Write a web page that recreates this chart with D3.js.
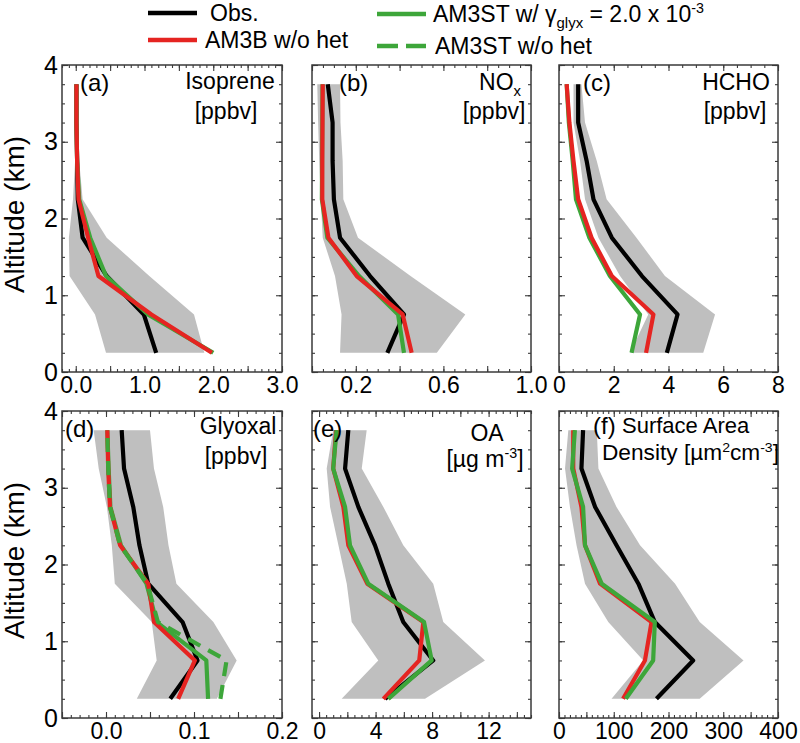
<!DOCTYPE html>
<html><head><meta charset="utf-8">
<script src="https://cdn.jsdelivr.net/npm/d3@7"></script>
<style>
body{margin:0;background:#fff}
text{font-family:"Liberation Sans",Arial,Helvetica,sans-serif;fill:#000}
</style>
</head><body>
<svg id="chart" width="800" height="743"></svg>
<script>
// ---------------- DATA ----------------
const altitudes = [0.25, 0.75, 1.25, 1.75, 2.25, 2.75, 3.25, 3.75];
const altTickValues = [0, 1, 2, 3, 4];
const altTickLabels = ["0", "1", "2", "3", "4"];

// (a) Isoprene [ppbv]
const isopreneObs   = [1.17, 0.99, 0.45, 0.10, 0.03, 0.02, 0.01, 0.01];
const isopreneAM3B  = [1.98, 1.10, 0.33, 0.18, 0.04, 0.02, 0.01, 0.01];
const isopreneAM3ST = [2.00, 1.05, 0.44, 0.21, 0.05, 0.02, 0.01, 0.01];
const isopreneLow   = [0.44, 0.28, -0.09, -0.10, -0.04, -0.01, 0.00, 0.00];
const isopreneHigh  = [1.87, 1.72, 1.07, 0.45, 0.10, 0.05, 0.03, 0.02];
const isopreneTickValues = [0, 1, 2, 3];
const isopreneTickLabels = ["0.0", "1.0", "2.0", "3.0"];

// (b) NOx [ppbv]
const noxObs   = [0.344, 0.420, 0.265, 0.128, 0.100, 0.094, 0.094, 0.072];
const noxAM3B  = [0.455, 0.414, 0.204, 0.075, 0.047, 0.047, 0.048, 0.049];
const noxAM3ST = [0.420, 0.393, 0.215, 0.070, 0.045, 0.046, 0.047, 0.048];
const noxLow   = [0.128, 0.135, 0.105, 0.049, 0.040, 0.033, 0.028, 0.024];
const noxHigh  = [0.570, 0.700, 0.450, 0.210, 0.143, 0.140, 0.130, 0.128];
const noxTickValues = [0.2, 0.6, 1.0];
const noxTickLabels = ["0.2", "0.6", "1.0"];

// (c) HCHO [ppbv]
const hchoObs   = [3.94, 4.33, 3.03, 1.93, 1.26, 1.01, 0.70, 0.70];
const hchoAM3B  = [3.18, 3.45, 1.93, 1.19, 0.70, 0.53, 0.38, 0.28];
const hchoAM3ST = [2.65, 2.96, 1.86, 1.11, 0.62, 0.50, 0.36, 0.28];
const hchoLow   = [2.60, 3.26, 2.23, 1.44, 0.95, 0.77, 0.53, 0.53];
const hchoHigh  = [5.27, 5.70, 3.87, 2.83, 1.74, 1.38, 0.95, 0.82];
const hchoTickValues = [0, 2, 4, 6, 8];
const hchoTickLabels = ["0", "2", "4", "6", "8"];

// (d) Glyoxal [ppbv]
const glyObs       = [0.073, 0.104, 0.087, 0.048, 0.038, 0.031, 0.0205, 0.0178];
const glyAM3B      = [0.082, 0.101, 0.0545, 0.048, 0.016, 0.0045, 0.0025, 0.0015];
const glyAM3ST     = [0.116, 0.114, 0.0576, 0.046, 0.017, 0.005, 0.003, 0.0015];
const glyAM3STnoHet= [0.130, 0.137, 0.059, 0.047, 0.016, 0.0045, 0.0025, 0.0015];
const glyLow       = [0.035, 0.0576, 0.052, 0.010, 0.0066, 0.001, -0.0083, -0.014];
const glyHigh      = [0.126, 0.1485, 0.122, 0.080, 0.071, 0.065, 0.0545, 0.050];
const glyTickValues = [0, 0.1, 0.2];
const glyTickLabels = ["0.0", "0.1", "0.2"];

// (e) OA [ug m-3]
const oaObs   = [4.67, 8.08, 5.96, 4.90, 3.96, 2.78, 1.84, 2.07];
const oaAM3B  = [4.55, 7.09, 7.38, 3.41, 2.07, 1.72, 1.00, 1.20];
const oaAM3ST = [4.90, 7.97, 7.43, 3.48, 2.19, 1.84, 1.00, 1.24];
const oaLow   = [1.60, 4.19, 2.31, 1.96, 1.37, 0.78, 0.54, 1.00];
const oaHigh  = [7.50, 11.74, 8.79, 8.08, 5.96, 4.55, 3.02, 3.37];
const oaTickValues = [0, 4, 8, 12];
const oaTickLabels = ["0", "4", "8", "12"];

// (f) Surface area density [um2 cm-3]
const sadObs   = [178, 245, 175, 145, 105, 66, 41, 44];
const sadAM3B  = [117, 157, 169, 75, 47.5, 41, 26, 26];
const sadAM3ST = [122, 172, 175, 78, 47.5, 44, 24, 29];
const sadLow   = [96, 154, 90, 47.5, 32, 20, 11, 17];
const sadHigh  = [257, 337, 257, 212, 148, 105, 72, 69];
const sadTickValues = [0, 100, 200, 300, 400];
const sadTickLabels = ["0", "100", "200", "300", "400"];

const legendLabels = ["Obs.", "AM3B w/o het", "AM3ST w/ γglyx = 2.0 x 10-3", "AM3ST w/o het"];

// ---------------- LAYOUT / STYLE ----------------
const COL = [[62, 282], [312, 531], [559, 778]];
const ROW = [[65, 372], [411, 718]];
const C_OBS = "#000000", C_B = "#e52421", C_ST = "#3da63a", C_GRAY = "#bfbfbf", C_FRAME = "#3a3a3a";
const LW = 4.2;

const panels = [
  {col:0,row:0,dom:[-0.2,3],major:0.5,minor:0.1,tv:isopreneTickValues,tl:isopreneTickLabels,
   obs:isopreneObs,b:isopreneAM3B,st:isopreneAM3ST,lo:isopreneLow,hi:isopreneHigh,
   tag:"(a)",tagX:18,tagY:26,
   title:[{parts:[{t:"Isoprene"}],dx:-52,dy:24},{parts:[{t:"[ppbv]"}],dx:-56,dy:54}]},
  {col:1,row:0,dom:[0,1],major:0.2,minor:0.05,tv:noxTickValues,tl:noxTickLabels,
   obs:noxObs,b:noxAM3B,st:noxAM3ST,lo:noxLow,hi:noxHigh,
   tag:"(b)",tagX:27,tagY:26,
   title:[{parts:[{t:"NO"},{t:"x",s:"sub"}],dx:-31,dy:25},{parts:[{t:"[ppbv]"}],dx:-37,dy:54}]},
  {col:2,row:0,dom:[0,8],major:2,minor:0.5,tv:hchoTickValues,tl:hchoTickLabels,
   obs:hchoObs,b:hchoAM3B,st:hchoAM3ST,lo:hchoLow,hi:hchoHigh,
   tag:"(c)",tagX:24,tagY:26,
   title:[{parts:[{t:"HCHO"}],dx:-42,dy:25},{parts:[{t:"[ppbv]"}],dx:-43,dy:54}]},
  {col:0,row:1,dom:[-0.05,0.2],major:0.05,minor:0.01,tv:glyTickValues,tl:glyTickLabels,
   obs:glyObs,b:glyAM3B,st:glyAM3ST,noHet:glyAM3STnoHet,lo:glyLow,hi:glyHigh,
   tag:"(d)",tagX:3,tagY:26,
   title:[{parts:[{t:"Glyoxal"}],dx:-44,dy:23},{parts:[{t:"[ppbv]"}],dx:-46,dy:53}]},
  {col:1,row:1,dom:[-0.5,15],major:2,minor:0.5,tv:oaTickValues,tl:oaTickLabels,
   obs:oaObs,b:oaAM3B,st:oaAM3ST,lo:oaLow,hi:oaHigh,greenTop:true,
   tag:"(e)",tagX:1,tagY:26,
   title:[{parts:[{t:"OA"}],dx:-44,dy:30},{parts:[{t:"[µg m"},{t:"-3",s:"sup"},{t:"]"}],dx:-46,dy:56}]},
  {col:2,row:1,dom:[0,400],major:50,minor:10,tv:sadTickValues,tl:sadTickLabels,
   obs:sadObs,b:sadAM3B,st:sadAM3ST,lo:sadLow,hi:sadHigh,greenTop:true,
   tag:"(f)",tagX:34,tagY:23,
   title:[{parts:[{t:"Surface Area"}],anchor:"start",ax:63,dy:22,size:22},
          {parts:[{t:"Density [µm"},{t:"2",s:"sup"},{t:"cm"},{t:"-3",s:"sup"},{t:"]"}],anchor:"start",ax:43,dy:49,len:177,size:22}]}
];

const svg = d3.select("#chart");

function stepTicks(dom, step){
  const n0 = Math.ceil(dom[0]/step - 1e-9), n1 = Math.floor(dom[1]/step + 1e-9);
  return d3.range(n0, n1+1).map(i => +(i*step).toFixed(6));
}

function rich(g, x, y, parts, size, anchor){
  const t = g.append("text").attr("x", x).attr("y", y).attr("font-size", size)
    .attr("text-anchor", anchor || "middle");
  let off = 0;
  parts.forEach(p => {
    const ts = t.append("tspan").text(p.t);
    let target = 0, fs = size;
    if (p.s === "sup") { target = -size*0.38; fs = size*0.62; }
    if (p.s === "sub") { target = size*0.28; fs = size*0.65; }
    ts.attr("dy", target - off).attr("font-size", fs);
    off = target;
  });
  return t;
}

panels.forEach(p => {
  const [x0, x1] = COL[p.col], [y0, y1] = ROW[p.row];
  const x = d3.scaleLinear().domain(p.dom).range([x0, x1]);
  const y = d3.scaleLinear().domain([0, 4]).range([y1, y0]);
  const g = svg.append("g");

  const area = d3.area().y(d => y(d[0])).x0(d => x(d[1])).x1(d => x(d[2]));
  g.append("path").datum(d3.zip(altitudes, p.lo, p.hi)).attr("d", area).attr("fill", C_GRAY);

  const line = d3.line().x(d => x(d[1])).y(d => y(d[0]));
  const draw = (vals, color, dash) => g.append("path").datum(d3.zip(altitudes, vals))
    .attr("d", line).attr("fill", "none").attr("stroke", color).attr("stroke-width", LW)
    .attr("stroke-linejoin", "round").attr("stroke-dasharray", dash || null);

  draw(p.obs, C_OBS);
  if (p.greenTop) { draw(p.b, C_B); draw(p.st, C_ST); }
  else { draw(p.st, C_ST); draw(p.b, C_B); }
  if (p.noHet) draw(p.noHet, C_ST, "14,9");

  const majorX = stepTicks(p.dom, p.major), minorX = stepTicks(p.dom, p.minor);
  const majorY = stepTicks([0,4], 1), minorY = stepTicks([0,4], 0.25);
  const tickAxes = [
    [d3.axisBottom(x), majorX, 6, `translate(0,${y1})`],
    [d3.axisBottom(x), minorX, 3, `translate(0,${y1})`],
    [d3.axisTop(x), majorX, 6, `translate(0,${y0})`],
    [d3.axisTop(x), minorX, 3, `translate(0,${y0})`],
    [d3.axisLeft(y), majorY, 6, `translate(${x0},0)`],
    [d3.axisLeft(y), minorY, 3, `translate(${x0},0)`],
    [d3.axisRight(y), majorY, 6, `translate(${x1},0)`],
    [d3.axisRight(y), minorY, 3, `translate(${x1},0)`]
  ];
  tickAxes.forEach(([ax, vals, len, tr]) => {
    const a = g.append("g").attr("transform", tr)
      .call(ax.tickValues(vals).tickSize(-len).tickFormat(""));
    a.select(".domain").remove();
    a.selectAll("line").attr("stroke", C_FRAME).attr("stroke-width", 1.1);
  });

  const xl = g.append("g").attr("transform", `translate(0,${y1})`)
    .call(d3.axisBottom(x).tickValues(p.tv).tickFormat((d,i) => p.tl[i]).tickSize(0).tickPadding(5));
  xl.select(".domain").remove();
  xl.selectAll("text").attr("font-size", 23).attr("font-family", '"Liberation Sans",Arial,sans-serif').attr("fill", "#000");

  if (p.col === 0) {
    const yl = g.append("g").attr("transform", `translate(${x0},0)`)
      .call(d3.axisLeft(y).tickValues(altTickValues).tickFormat((d,i) => altTickLabels[i]).tickSize(0).tickPadding(4));
    yl.select(".domain").remove();
    yl.selectAll("text").attr("font-size", 25).attr("font-family", '"Liberation Sans",Arial,sans-serif').attr("fill", "#000");
    g.append("text").attr("transform", `translate(24,${(y0+y1)/2 - 4}) rotate(-90)`)
      .attr("text-anchor", "middle").attr("font-size", 28).text("Altitude (km)");
  }

  g.append("rect").attr("x", x0).attr("y", y0).attr("width", x1-x0).attr("height", y1-y0)
    .attr("fill", "none").attr("stroke", C_FRAME).attr("stroke-width", 1.5);

  g.append("text").attr("x", x0 + p.tagX).attr("y", y0 + p.tagY).attr("font-size", 24).text(p.tag);
  p.title.forEach(tl => {
    const tx = tl.anchor === "start" ? x0 + tl.ax : x1 + tl.dx;
    const t = rich(g, tx, y0 + tl.dy, tl.parts, tl.size || 23, tl.anchor || "middle");
    if (tl.len) t.attr("textLength", tl.len).attr("lengthAdjust", "spacingAndGlyphs");
  });
});

// ---------------- LEGEND ----------------
const lg = svg.append("g");
const legendItems = [
  {x1:148, x2:197, y:13, color:C_OBS, tx:210, ty:21, parts:[{t:legendLabels[0]}]},
  {x1:148, x2:197, y:40, color:C_B, tx:205, ty:48, parts:[{t:legendLabels[1]}]},
  {x1:377, x2:426, y:14, color:C_ST, tx:433, ty:22,
   parts:[{t:"AM3ST w/ γ"},{t:"glyx",s:"sub"},{t:" = 2.0 x 10"},{t:"-3",s:"sup"}]},
  {x1:377, x2:426, y:46, color:C_ST, dash:"21,8", tx:435, ty:54, parts:[{t:legendLabels[3]}]}
];
legendItems.forEach(it => {
  lg.append("line").attr("x1", it.x1).attr("x2", it.x2).attr("y1", it.y).attr("y2", it.y)
    .attr("stroke", it.color).attr("stroke-width", 4.5).attr("stroke-dasharray", it.dash || null);
  rich(lg, it.tx, it.ty, it.parts, 23, "start");
});
</script>
</body></html>
